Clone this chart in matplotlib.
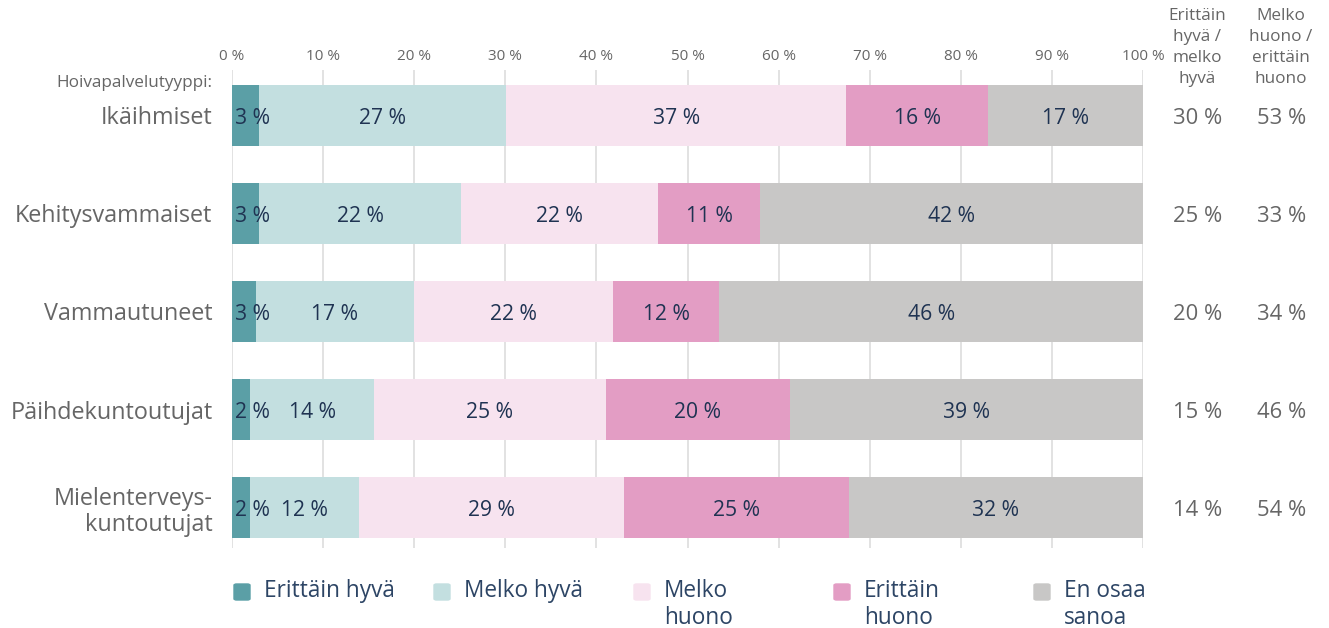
import numpy as np
import matplotlib.pyplot as plt
from matplotlib.patches import FancyBboxPatch

plt.rcParams['font.family'] = ['Open Sans', 'DejaVu Sans']

# DATA
categories = ["Ikäihmiset", "Kehitysvammaiset", "Vammautuneet", "Päihdekuntoutujat",
              "Mielenterveys-\nkuntoutujat"]
series_names = ["Erittäin hyvä", "Melko hyvä", "Melko huono", "Erittäin huono", "En osaa sanoa"]
legend_labels = ["Erittäin hyvä", "Melko hyvä", "Melko\nhuono", "Erittäin\nhuono", "En osaa\nsanoa"]
erittain_hyva = [3.0, 3.0, 2.6, 2.0, 2.0]
melko_hyva = [27.1, 22.1, 17.4, 13.6, 11.9]
melko_huono = [37.3, 21.7, 21.8, 25.4, 29.1]
erittain_huono = [15.6, 11.2, 11.7, 20.2, 24.7]
en_osaa = [17.0, 42.0, 46.5, 38.8, 32.3]
hyva_yht = ["30 %", "25 %", "20 %", "15 %", "14 %"]
huono_yht = ["53 %", "33 %", "34 %", "46 %", "54 %"]
x_ticks = [0, 10, 20, 30, 40, 50, 60, 70, 80, 90, 100]

colors = ["#5b9fa6", "#c3dfe0", "#f7e3ef", "#e39dc4", "#c8c7c6"]
label_col = "#1f3352"
gray_txt = "#666666"

fig = plt.figure(figsize=(13.29, 6.28), dpi=100)
ax = fig.add_axes([232/1329, 1-548/628, (1143-232)/1329, (548-70)/628])

data = np.array([erittain_hyva, melko_hyva, melko_huono, erittain_huono, en_osaa])
y = np.arange(len(categories))
left = np.zeros(len(categories))
for s in range(len(series_names)):
    ax.barh(y, data[s], left=left, height=0.62, color=colors[s], zorder=2)
    for i in range(len(categories)):
        v = data[s][i]
        txt = "%d %%" % round(v)
        if v < 5:
            ax.text(left[i] + 0.35, y[i] + 0.03, txt, ha='left', va='center', fontsize=15.2,
                    color=label_col, zorder=3)
        else:
            ax.text(left[i] + v/2, y[i] + 0.03, txt, ha='center', va='center', fontsize=15.2,
                    color=label_col, zorder=3)
    left += data[s]

ax.set_xlim(0, 100)
ax.set_ylim(4.41, -0.46)
ax.set_xticks(x_ticks)
ax.set_xticklabels(["%d %%" % t for t in x_ticks], fontsize=11, color=gray_txt)
ax.xaxis.tick_top()
ax.tick_params(axis='x', length=0, pad=4)
ax.set_yticks(y)
ax.set_yticklabels(categories, fontsize=16.8, color=gray_txt, ha='right')
for lab in ax.get_yticklabels():
    lab.set_multialignment('right')
    lab.set_linespacing(1.15)
ax.tick_params(axis='y', length=0, pad=14)
ax.grid(axis='x', color="#dddddd", linewidth=1.2, zorder=0)
for sp in ax.spines.values():
    sp.set_visible(False)

ax.text(-2.2, -0.33, "Hoivapalvelutyyppi:", ha='right', va='center', fontsize=12.3,
        color=gray_txt)

# summary columns
for i in range(len(categories)):
    ax.text(106, y[i] + 0.03, hyva_yht[i], ha='center', va='center', fontsize=15.8,
            color=gray_txt, clip_on=False)
    ax.text(115.2, y[i] + 0.03, huono_yht[i], ha='center', va='center', fontsize=15.8,
            color=gray_txt, clip_on=False)
fig.text(1197/1329, 1-8/628, "Erittäin\nhyvä /\nmelko\nhyvä", ha='center', va='top',
         fontsize=12.3, color=gray_txt, linespacing=1.42)
fig.text(1281/1329, 1-8/628, "Melko\nhuono /\nerittäin\nhuono", ha='center', va='top',
         fontsize=12.3, color=gray_txt, linespacing=1.42)

# legend
for k in range(len(series_names)):
    x0 = (234 + 200*k)/1329
    fig.patches.append(FancyBboxPatch((x0, 1-600/628), 16/1329, 16/628,
                                      boxstyle="round,pad=0,rounding_size=0.002",
                                      transform=fig.transFigure, color=colors[k]))
    fig.text((264 + 200*k)/1329, 1-579/628, legend_labels[k], ha='left', va='top',
             fontsize=16.3, color="#2d4565", linespacing=1.15)

fig.savefig("out.png", dpi=100)
